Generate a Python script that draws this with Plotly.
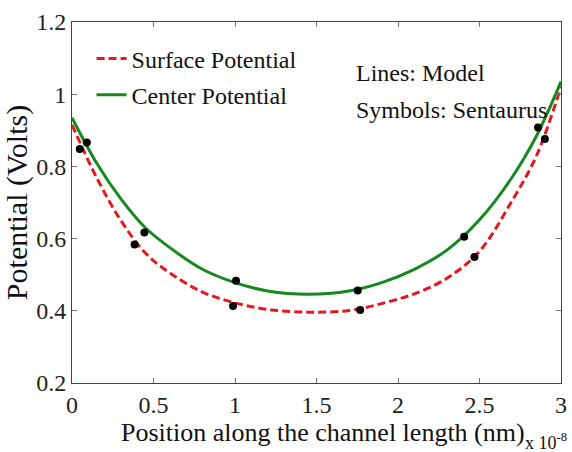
import plotly.graph_objects as go

# Position along the channel, in units of 1e-8 m
x_model = [0.0, 0.15, 0.3, 0.45, 0.6, 0.8, 1.0, 1.2, 1.45, 1.7, 1.9, 2.1, 2.3, 2.5, 2.7, 2.85, 3.0]

# Model curves (Volts)
surface_model = [0.915, 0.77, 0.65, 0.56, 0.505, 0.452, 0.422, 0.404, 0.396, 0.401, 0.42, 0.447, 0.49, 0.565, 0.705, 0.83, 1.02]
center_model = [0.935, 0.81, 0.71, 0.63, 0.575, 0.515, 0.478, 0.455, 0.446, 0.455, 0.478, 0.515, 0.568, 0.652, 0.77, 0.885, 1.035]

# Sentaurus simulation points
x_sim_surface = [0.048, 0.384, 0.988, 1.768, 2.469, 2.901]
v_sim_surface = [0.848, 0.584, 0.413, 0.402, 0.549, 0.876]
x_sim_center = [0.091, 0.444, 1.006, 1.753, 2.406, 2.859]
v_sim_center = [0.866, 0.617, 0.483, 0.456, 0.605, 0.908]

x_ticks = [0, 0.5, 1, 1.5, 2, 2.5, 3]
x_tick_text = ["0", "0.5", "1", "1.5", "2", "2.5", "3"]
y_ticks = [0.2, 0.4, 0.6, 0.8, 1.0, 1.2]
y_tick_text = ["0.2", "0.4", "0.6", "0.8", "1", "1.2"]

SERIF = "Liberation Serif"
RED = "#e3191f"
GREEN = "#15891e"

fig = go.Figure()

fig.add_trace(go.Scatter(
    x=x_model, y=surface_model, mode="lines", name="Surface Potential",
    line=dict(color=RED, width=3, dash="8px,4px", shape="spline", smoothing=1.0),
    legendgroup="s",
))
fig.add_trace(go.Scatter(
    x=x_model, y=center_model, mode="lines", name="Center Potential",
    line=dict(color=GREEN, width=3, shape="spline", smoothing=1.0),
    legendgroup="c",
))
fig.add_trace(go.Scatter(
    x=x_sim_surface, y=v_sim_surface, mode="markers", showlegend=False,
    marker=dict(color="black", size=8),
))
fig.add_trace(go.Scatter(
    x=x_sim_center, y=v_sim_center, mode="markers", showlegend=False,
    marker=dict(color="black", size=8),
))

axis_common = dict(
    showline=True, linecolor="#444", linewidth=1, mirror="ticks",
    ticks="inside", ticklen=5, tickcolor="#777", tickwidth=1,
    showgrid=False, zeroline=False, ticklabeloverflow="allow",
    tickfont=dict(family=SERIF, size=24, color="#222"),
)

fig.update_xaxes(range=[0, 3], tickvals=x_ticks, ticktext=x_tick_text, **axis_common)
fig.update_yaxes(
    range=[0.2, 1.2], tickvals=y_ticks, ticktext=y_tick_text,
    title=dict(text="Potential (Volts)",
               font=dict(family=SERIF, size=30, color="#111"), standoff=5),
    **axis_common,
)

# x-axis title and its scale factor
fig.add_annotation(
    text="Position along the channel length (nm)", xref="paper", yref="paper",
    x=0.513, y=-0.138, xanchor="center", yanchor="middle", showarrow=False,
    font=dict(family=SERIF, size=26, color="#111"),
)
fig.add_annotation(
    text="x 10<sup>-8</sup>", xref="paper", yref="paper",
    x=0.922, y=-0.162, xanchor="left", yanchor="middle", showarrow=False,
    font=dict(family=SERIF, size=18, color="#111"),
)
fig.add_annotation(
    text="Lines: Model", xref="paper", yref="paper",
    x=0.576, y=0.859, xanchor="left", yanchor="middle", showarrow=False,
    font=dict(family=SERIF, size=24, color="#111"),
)
fig.add_annotation(
    text="Symbols: Sentaurus", xref="paper", yref="paper",
    x=0.576, y=0.756, xanchor="left", yanchor="middle", showarrow=False,
    font=dict(family=SERIF, size=24, color="#111"),
)

fig.update_layout(
    width=572, height=452,
    margin=dict(l=72, r=5, t=22, b=69),
    paper_bgcolor="white", plot_bgcolor="white",
    font=dict(family=SERIF),
    showlegend=True,
    legend=dict(
        x=0.04, y=0.96, xanchor="left", yanchor="top",
        bgcolor="rgba(0,0,0,0)", borderwidth=0,
        font=dict(family=SERIF, size=24, color="#111"),
        traceorder="grouped", tracegroupgap=2,
    ),
)

fig.write_html("out.html")
